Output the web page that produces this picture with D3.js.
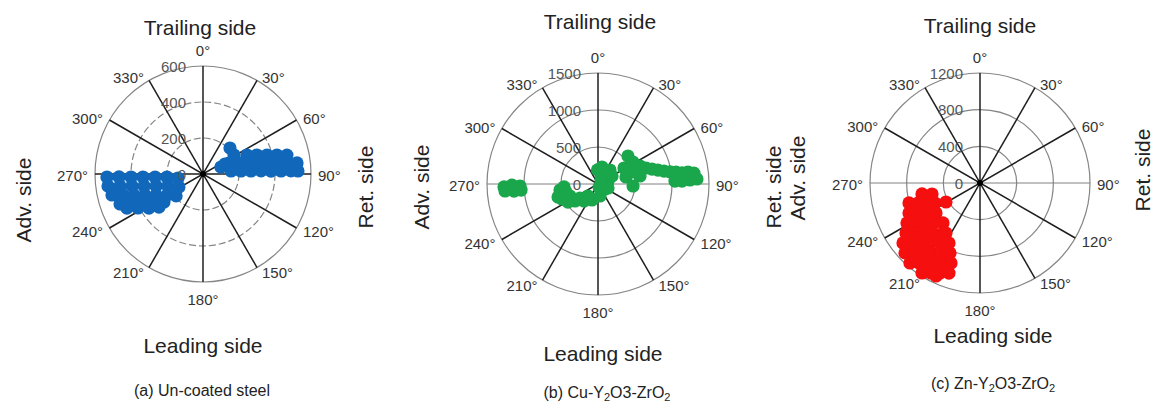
<!DOCTYPE html>
<html lang="en">
<head>
<meta charset="UTF-8">
<title>Polar scatter - coating comparison</title>
<script src="https://d3js.org/d3.v7.min.js"></script>
<style>
  body { margin: 0; background: #fff; }
  svg text { font-family: "Liberation Sans", Arial, sans-serif; }
</style>
</head>
<body>
<svg id="chart" width="1154" height="405"></svg>
<script>
// ---- data ----
const angleTicks = [0, 30, 60, 90, 120, 150, 180, 210, 240, 270, 300, 330];

const ringsSteel = [0, 200, 400, 600];
const ringsCu = [0, 500, 1000, 1500];
const ringsZn = [0, 400, 800, 1200];

// (a) un-coated steel : angle (deg, clockwise from trailing side), value
const steelAngle = [268.2, 268.0, 267.6, 267.1, 266.4, 265.2, 260.9,
  262.8, 261.8, 260.4, 258.5, 255.7, 251.1, 241.6,
  257.0, 255.3, 253.1, 250.1, 245.9, 239.7, 230.8,
  250.1, 247.4, 243.8, 239.0, 234.3,
  245.9, 242.4, 237.8, 233.1,
  66.6, 70.6, 73.5, 75.6, 77.3,
  67.1, 73.0, 76.6, 78.9, 80.5, 81.8, 82.7, 83.3,
  83.9, 85.5, 86.4, 87.0, 87.5, 87.8, 88.0, 88.2,
  46.1, 58.5, 68.7, 65.6];
const steelValue = [534, 467, 400, 334, 267, 201, 141,
  532, 466, 400, 334, 269, 206, 152,
  519, 460, 401, 343, 286, 232, 193,
  490, 433, 378, 324, 267,
  463, 408, 355, 306,
  266, 318, 371, 424, 478,
  157, 209, 263, 317, 372, 427, 482, 526,
  157, 212, 267, 323, 378, 434, 489, 528,
  208, 202, 107, 134];

// (b) Cu-Y2O3-ZrO2
const cuAngle = [268.2, 269.3, 268.5, 265.7, 265.2, 265.5,
  261.0, 247.4, 252.0, 246.8, 233.5, 219.5, 200.6, 265.0, 170.5, 125.5,
  256.0, 239.0, 232.1, 219.8, 111.8, 40.6,
  73.3, 36.0, 13.2, 60.3, 160.0, 358.0, 31.0,
  47.0, 57.8, 58.4, 76.0, 71.6, 66.8, 71.6, 74.5, 76.9, 78.9, 80.5,
  81.3, 82.5, 82.4, 83.5, 87.1, 87.5, 88.0, 87.8, 79.2, 93.3];
const cuValue = [1271, 1162, 1054, 1260, 1139, 1043,
  520, 527, 568, 412, 386, 297, 231, 461, 164, 116,
  446, 473, 308, 211, 146, 249,
  141, 184, 236, 218, 45, 190, 79,
  554, 558, 412, 390, 513, 617, 684, 757, 832, 909, 986,
  1066, 1144, 1227, 1305, 1339, 1244, 1136, 1041, 578, 474];

// (c) Zn-Y2O3-ZrO2
const znAngle = [259.3, 257.1,
  254.3, 252.1, 249.3, 246.0,
  247.1, 244.2, 240.5, 235.7,
  241.3, 238.0, 234.0, 229.0, 222.8,
  236.0, 232.4, 228.2, 223.2, 216.5, 214.2,
  232.1, 228.6, 224.5, 219.8, 213.7, 207.3,
  227.0, 223.3, 219.2, 214.4, 209.1, 203.2,
  221.2, 217.3, 213.0, 208.3, 203.0, 199.9,
  212.8, 208.6, 204.0, 199.0, 205.3, 240.8];
const znValue = [644, 537,
  805, 711, 618, 537,
  841, 751, 664, 581,
  908, 823, 742, 665, 594,
  974, 895, 819, 749, 679, 660,
  1065, 989, 918, 852, 787, 737,
  1119, 1050, 985, 926, 874, 831,
  1160, 1097, 1041, 991, 948, 928,
  1168, 1118, 1075, 1039, 1122, 425];

const topLabel = 'Trailing side';
const bottomLabel = 'Leading side';
const captions = [
  [['(a) Un-coated steel', false]],
  [['(b) Cu-Y', false], ['2', true], ['O3-ZrO', false], ['2', true]],
  [['(c) Zn-Y', false], ['2', true], ['O3-ZrO', false], ['2', true]]
];

// ---- layout ----
const panels = [
  { cx: 203, cy: 174, R: 108, rings: ringsSteel, angles: steelAngle, values: steelValue,
    color: '#1168bb', dashed: true, darkH: true,
    top: [200, 35], bottom: [203, 353], caption: [202, 396],
    sides: [['Adv. side', 23, 200], ['Ret. side', 365, 187]] },
  { cx: 598, cy: 184, R: 111, rings: ringsCu, angles: cuAngle, values: cuValue,
    color: '#1aa64b', dashed: false, darkH: false,
    top: [600, 29], bottom: [603, 361], caption: [607, 398],
    sides: [['Adv. side', 421, 187], ['Ret. side', 773, 187]] },
  { cx: 980, cy: 183, R: 110, rings: ringsZn, angles: znAngle, values: znValue,
    color: '#f50f0f', dashed: false, darkH: false,
    top: [980, 33], bottom: [993, 343], caption: [993, 389],
    sides: [['Adv. side', 797, 178], ['Ret. side', 1142, 170]] }
];

const svg = d3.select('#chart');
const angle = d3.scaleLinear().domain([0, 360]).range([0, 2 * Math.PI]);

function drawPanel(p, idx) {
  const maxV = d3.max(p.rings);
  const r = d3.scaleLinear().domain([0, maxV]).range([0, p.R]);
  const g = svg.append('g').attr('transform', `translate(${p.cx},${p.cy})`);

  // grid rings
  g.selectAll('circle.ring')
    .data(p.rings.filter(d => d > 0))
    .join('circle')
    .attr('class', 'ring')
    .attr('r', d => r(d))
    .attr('fill', 'none')
    .attr('stroke', '#858585')
    .attr('stroke-width', 1.2)
    .attr('stroke-dasharray', d => (p.dashed && d < maxV) ? '7,3' : null);

  // spokes every 30 deg
  g.selectAll('line.spoke')
    .data(angleTicks.filter(d => d < 180))
    .join('line')
    .attr('class', 'spoke')
    .attr('x1', d => d3.pointRadial(angle(d), p.R)[0])
    .attr('y1', d => d3.pointRadial(angle(d), p.R)[1])
    .attr('x2', d => d3.pointRadial(angle(d + 180), p.R)[0])
    .attr('y2', d => d3.pointRadial(angle(d + 180), p.R)[1])
    .attr('stroke', d => (d === 90 && !p.darkH) ? '#808080' : '#1e1e1e')
    .attr('stroke-width', d => (d === 90 && !p.darkH) ? 1 : 1.5);

  // angle labels
  g.selectAll('text.ang')
    .data(angleTicks)
    .join('text')
    .attr('class', 'ang')
    .attr('x', d => {
      const [x] = d3.pointRadial(angle(d), p.R);
      const s = Math.sin(angle(d));
      if (d === 0 || d === 180) return x;
      return x + Math.sign(s) * (3 + 4 * Math.abs(s));
    })
    .attr('y', d => {
      const [, y] = d3.pointRadial(angle(d), p.R);
      if (d === 0) return y - 16;
      if (d === 180) return y + 17;
      return y - 5 * Math.cos(angle(d)) + 1;
    })
    .attr('text-anchor', d => (d === 0 || d === 180) ? 'middle' : (d < 180 ? 'start' : 'end'))
    .attr('dominant-baseline', 'central')
    .attr('font-size', 15)
    .attr('fill', '#333')
    .text(d => d + '°');

  // centre dot (hidden under the points where they cover it)
  g.append('circle').attr('r', 3).attr('fill', '#000');

  // data points
  g.selectAll('circle.pt')
    .data(d3.zip(p.angles, p.values))
    .join('circle')
    .attr('class', 'pt')
    .attr('cx', d => d3.pointRadial(angle(d[0]), r(d[1]))[0])
    .attr('cy', d => d3.pointRadial(angle(d[0]), r(d[1]))[1])
    .attr('r', 6.6)
    .attr('fill', p.color);

  // radial tick labels
  g.selectAll('text.rad')
    .data(p.rings)
    .join('text')
    .attr('class', 'rad')
    .attr('x', -17)
    .attr('y', d => -r(d))
    .attr('text-anchor', 'end')
    .attr('dominant-baseline', 'central')
    .attr('font-size', 15)
    .attr('fill', '#555')
    .text(d => d);

  // side titles
  svg.append('text')
    .attr('x', p.top[0]).attr('y', p.top[1])
    .attr('text-anchor', 'middle').attr('font-size', 21).attr('fill', '#222')
    .text(topLabel);
  svg.append('text')
    .attr('x', p.bottom[0]).attr('y', p.bottom[1])
    .attr('text-anchor', 'middle').attr('font-size', 21).attr('fill', '#222')
    .text(bottomLabel);
  p.sides.forEach(s => {
    svg.append('text')
      .attr('transform', `translate(${s[1]},${s[2]}) rotate(-90)`)
      .attr('text-anchor', 'middle').attr('dominant-baseline', 'central')
      .attr('font-size', 21).attr('fill', '#222')
      .text(s[0]);
  });

  // caption with subscripts
  const cap = svg.append('text')
    .attr('x', p.caption[0]).attr('y', p.caption[1])
    .attr('text-anchor', 'middle').attr('font-size', 16).attr('fill', '#222');
  captions[idx].forEach(([t, sub]) => {
    cap.append('tspan')
      .attr('font-size', sub ? 11 : 16)
      .attr('dy', sub ? 3 : (cap.selectAll('tspan').size() > 1 ? -3 : 0))
      .text(t);
  });
}

panels.forEach(drawPanel);
</script>
</body>
</html>
